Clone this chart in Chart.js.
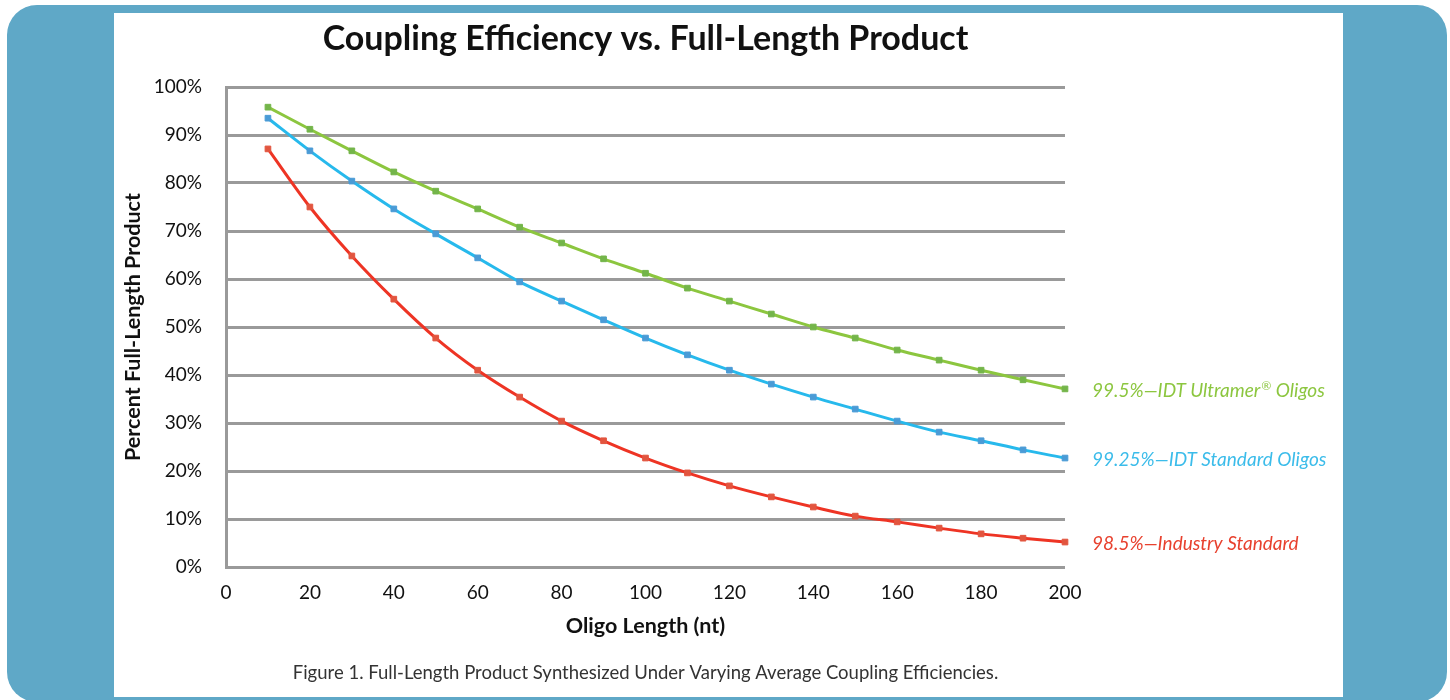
<!DOCTYPE html>
<html>
<head>
<meta charset="utf-8">
<script src="https://cdn.jsdelivr.net/npm/chart.js@4.4.1/dist/chart.umd.min.js"></script>
<style>
  html, body { margin: 0; padding: 0; background: #ffffff; overflow: hidden; }
  #wrap { position: relative; width: 1450px; height: 700px; }
</style>
</head>
<body>
<div id="wrap"><canvas id="c"></canvas></div>
<script>
const chartTitle = 'Coupling Efficiency vs. Full-Length Product';
const caption = 'Figure 1. Full-Length Product Synthesized Under Varying Average Coupling Efficiencies.';
const xTitle = 'Oligo Length (nt)';
const yTitle = 'Percent Full-Length Product';

const lengths = [10, 20, 30, 40, 50, 60, 70, 80, 90, 100, 110, 120, 130, 140, 150, 160, 170, 180, 190, 200];
const ultramer = [95.8, 91.2, 86.7, 82.3, 78.3, 74.6, 70.8, 67.5, 64.2, 61.2, 58.1, 55.4, 52.7, 50.0, 47.7, 45.2, 43.1, 41.0, 39.0, 37.1];
const standard = [93.5, 86.7, 80.4, 74.6, 69.4, 64.4, 59.4, 55.4, 51.5, 47.7, 44.2, 41.0, 38.1, 35.4, 32.9, 30.4, 28.1, 26.3, 24.4, 22.7];
const industry = [87.1, 75.0, 64.8, 55.8, 47.7, 41.0, 35.4, 30.4, 26.3, 22.7, 19.6, 16.9, 14.6, 12.5, 10.6, 9.4, 8.1, 6.9, 6.0, 5.2];

// label pieces: [main text, superscript, rest]
const seriesNames = [
  ['99.5%\u2014IDT Ultramer', '\u00AE', ' Oligos'],
  ['99.25%\u2014IDT Standard Oligos', '', ''],
  ['98.5%\u2014Industry Standard', '', '']
];
const seriesValues = [ultramer, standard, industry];
const lineColors = ['#8cc63f', '#27b9ec', '#ee3424'];
const markerColors = ['#74b54a', '#4a9bd6', '#e2553f'];
const labelColors = ['#8cc63f', '#3bbcea', '#e8412e'];

const FONT = 'Lato, "Open Sans", "DejaVu Sans", sans-serif';

const framePlugin = {
  id: 'frame',
  beforeDraw(chart) {
    const ctx = chart.ctx;
    ctx.save();
    ctx.fillStyle = '#ffffff';
    ctx.fillRect(0, 0, chart.width, chart.height);
    ctx.fillStyle = '#5fa8c7';
    ctx.beginPath();
    ctx.roundRect(7, 5, 1440, 697, 30);
    ctx.fill();
    ctx.fillStyle = '#ffffff';
    ctx.fillRect(114, 13, 1229, 684);
    ctx.restore();
  },
  afterDraw(chart) {
    const ctx = chart.ctx;
    const ca = chart.chartArea;
    const cx = (ca.left + ca.right) / 2;
    ctx.save();
    ctx.textAlign = 'center';
    ctx.textBaseline = 'middle';
    ctx.fillStyle = '#111111';
    ctx.font = 'bold 34px ' + FONT;
    ctx.fillText(chartTitle, cx, 39);
    ctx.fillStyle = '#333333';
    ctx.font = '18.5px ' + FONT;
    ctx.fillText(caption, cx, 673);
    // series labels at the end of each line
    ctx.textAlign = 'left';
    chart.data.datasets.forEach((ds, i) => {
      const meta = chart.getDatasetMeta(i);
      const last = meta.data[meta.data.length - 1];
      const parts = seriesNames[i];
      let x = last.x + 27;
      const y = last.y + 2;
      ctx.fillStyle = labelColors[i];
      ctx.font = 'italic 19px ' + FONT;
      ctx.fillText(parts[0], x, y);
      x += ctx.measureText(parts[0]).width;
      if (parts[1]) {
        ctx.font = 'italic 12px ' + FONT;
        ctx.fillText(parts[1], x + 1, y - 5);
        x += ctx.measureText(parts[1]).width + 1;
      }
      if (parts[2]) {
        ctx.font = 'italic 19px ' + FONT;
        ctx.fillText(parts[2], x, y);
      }
    });
    ctx.restore();
  }
};

const datasets = seriesValues.map((vals, i) => ({
  label: seriesNames[i].join(''),
  data: lengths.map((x, j) => ({ x: x, y: vals[j] })),
  borderColor: lineColors[i],
  backgroundColor: markerColors[i],
  borderWidth: 3,
  cubicInterpolationMode: 'monotone',
  pointStyle: 'rect',
  pointRadius: 4,
  pointBorderWidth: 1,
  pointBorderColor: markerColors[i],
  pointBackgroundColor: markerColors[i],
  clip: false
}));

new Chart(document.getElementById('c'), {
  type: 'line',
  data: { datasets: datasets },
  options: {
    responsive: true,
    maintainAspectRatio: false,
    animation: false,
    events: [],
    layout: { padding: { left: 114, right: 385, top: 87, bottom: 60 } },
    plugins: {
      legend: { display: false },
      title: { display: false },
      tooltip: { enabled: false }
    },
    scales: {
      x: {
        type: 'linear',
        min: 0,
        max: 200,
        afterFit(scale) { scale.height = 73; },
        grid: { display: false, drawTicks: false },
        border: { display: false },
        ticks: {
          stepSize: 20,
          padding: 14,
          color: '#111111',
          font: { family: FONT, size: 19 }
        },
        title: {
          display: true,
          text: xTitle,
          color: '#111111',
          font: { family: FONT, size: 21.5, weight: 'bold' },
          padding: { top: 0, bottom: 1 }
        }
      },
      y: {
        type: 'linear',
        min: 0,
        max: 100,
        afterFit(scale) { scale.width = 112; },
        grid: { color: '#9a9a9a', lineWidth: 3, drawTicks: false },
        border: { display: true, color: '#9a9a9a', width: 3 },
        ticks: {
          stepSize: 10,
          padding: 24,
          color: '#111111',
          font: { family: FONT, size: 19 },
          callback: (v) => v + '%'
        },
        title: {
          display: true,
          text: yTitle,
          color: '#111111',
          font: { family: FONT, size: 21.5, weight: 'bold' },
          padding: { top: 6, bottom: 0 }
        }
      }
    }
  },
  plugins: [framePlugin]
});
</script>
</body>
</html>
